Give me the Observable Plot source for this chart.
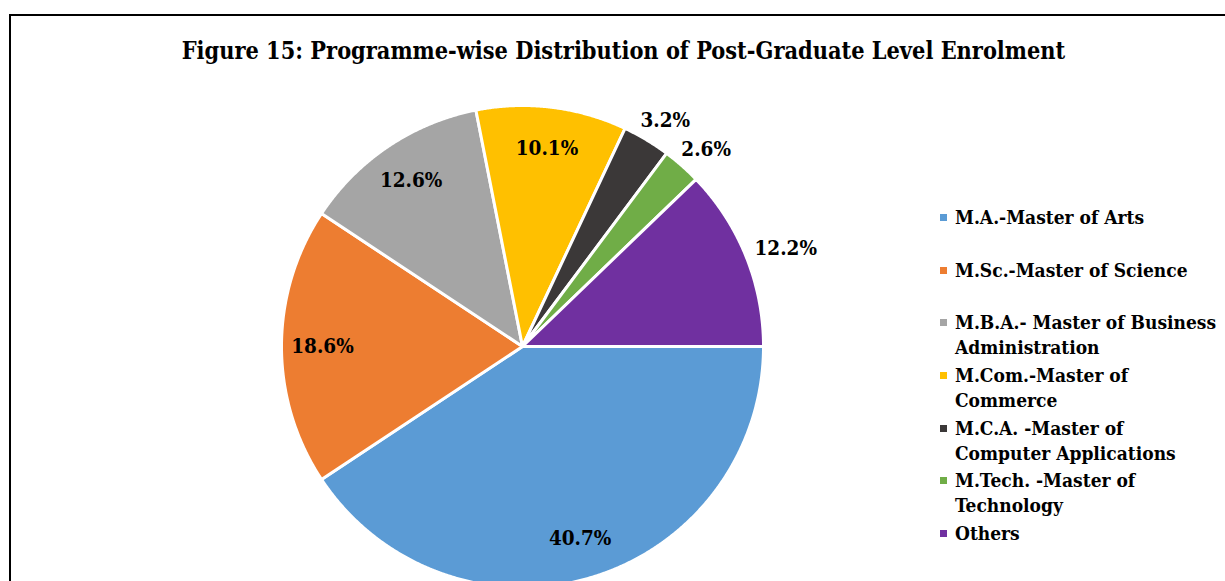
<!DOCTYPE html>
<html>
<head>
<meta charset="utf-8">
<script src="https://cdn.jsdelivr.net/npm/d3@7"></script>
<script src="https://cdn.jsdelivr.net/npm/@observablehq/plot@0.6"></script>
<style>
  html, body { margin: 0; padding: 0; background: #fff; overflow: hidden; }
  #wrap { position: relative; width: 1225px; height: 581px; overflow: hidden;
          font-family: "DejaVu Serif", "Liberation Serif", serif; font-stretch: condensed; font-weight: bold; color: #000; }
  #frame { position: absolute; left: 9px; top: 14px; width: 1300px; height: 700px;
           border: 2px solid #000; box-sizing: border-box; }
  #title { position: absolute; left: 0; width: 1247px; top: 36px; text-align: center;
           font-size: 23.3px; line-height: 30px; white-space: nowrap; }
  #chart { position: absolute; left: 0; top: 0; }
  #legend { position: absolute; left: 940px; top: 205px; }
  .item { position: relative; height: 52.67px; }
  .sw { position: absolute; left: 0; top: 9px; width: 7px; height: 7px; }
  .lab { position: absolute; left: 15px; top: 0; font-size: 19px; line-height: 25px; white-space: nowrap; }
</style>
</head>
<body>
<div id="wrap">
  <div id="frame"></div>
  <div id="chart"></div>
  <div id="title"></div>
  <div id="legend"></div>
</div>
<script>
// ---- data ----
const titleText = "Figure 15: Programme-wise Distribution of Post-Graduate Level Enrolment";
const categories = [
  "M.A.-Master of Arts",
  "M.Sc.-Master of Science",
  "M.B.A.- Master of Business Administration",
  "M.Com.-Master of Commerce",
  "M.C.A. -Master of Computer Applications",
  "M.Tech. -Master of Technology",
  "Others"
];
const shares = [40.7, 18.6, 12.6, 10.1, 3.2, 2.6, 12.2];
const colors = ["#5B9BD5", "#ED7D31", "#A5A5A5", "#FFC000", "#3B3838", "#70AD47", "#7030A0"];
const legendLines = [
  ["M.A.-Master of Arts"],
  ["M.Sc.-Master of Science"],
  ["M.B.A.- Master of Business", "Administration"],
  ["M.Com.-Master of", "Commerce"],
  ["M.C.A. -Master of", "Computer Applications"],
  ["M.Tech. -Master of", "Technology"],
  ["Others"]
];
const outsideLabels = ["M.C.A. -Master of Computer Applications", "M.Tech. -Master of Technology", "Others"];

// ---- layout ----
const W = 1225, H = 581;
const cx = 522, cy = 346, R = 241;
const startDeg = 90; // first slice begins at 3 o'clock, clockwise
const labelSize = 20.5;

// ---- build slice polygons ----
const pts = [];
const labels = [];
let acc = 0;
categories.forEach((c, i) => {
  const a0 = (startDeg + acc / 100 * 360) * Math.PI / 180;
  acc += shares[i];
  const a1 = (startDeg + acc / 100 * 360) * Math.PI / 180;
  pts.push({c, x: 0, y: 0});
  const n = Math.max(2, Math.ceil((a1 - a0) / (Math.PI / 720)));
  for (let k = 0; k <= n; k++) {
    const a = a0 + (a1 - a0) * k / n;
    pts.push({c, x: Math.sin(a), y: Math.cos(a)});
  }
  pts.push({c, x: 0, y: 0});
  const am = (a0 + a1) / 2;
  const text = shares[i].toFixed(1) + "%";
  let lx, ly;
  if (outsideLabels.includes(c)) {
    // outside-end: box placed just beyond the rim along the mid-angle
    const halfW = text.length * 0.6 * labelSize / 2 / R;
    const halfH = labelSize / 2 / R;
    lx = 1.05 * Math.sin(am) + halfW * Math.sin(am);
    ly = 1.05 * Math.cos(am) + halfH * Math.cos(am);
  } else {
    lx = 0.83 * Math.sin(am);
    ly = 0.83 * Math.cos(am);
  }
  labels.push({c, x: lx, y: ly, text});
});

const chart = Plot.plot({
  width: W, height: H, margin: 0,
  style: {fontFamily: '"DejaVu Serif", "Liberation Serif", serif', fontStretch: "condensed", background: "transparent"},
  x: {domain: [-cx / R, (W - cx) / R], axis: null},
  y: {domain: [-(H - cy) / R, cy / R], axis: null},
  color: {domain: categories, range: colors},
  marks: [
    Plot.line(pts, {x: "x", y: "y", z: "c", fill: "c", stroke: "white", strokeWidth: 3, strokeLinejoin: "round"}),
    Plot.text(labels, {x: "x", y: "y", text: "text", fill: "black", fontSize: labelSize, fontWeight: "bold"})
  ]
});
document.getElementById("chart").appendChild(chart);

document.getElementById("title").textContent = titleText;

const legend = document.getElementById("legend");
categories.forEach((c, i) => {
  const item = document.createElement("div");
  item.className = "item";
  const sw = document.createElement("div");
  sw.className = "sw";
  sw.style.background = colors[i];
  const lab = document.createElement("div");
  lab.className = "lab";
  lab.innerHTML = legendLines[i].map(s => s.replace(/&/g, "&amp;")).join("<br>");
  item.appendChild(sw);
  item.appendChild(lab);
  legend.appendChild(item);
});
</script>
</body>
</html>
